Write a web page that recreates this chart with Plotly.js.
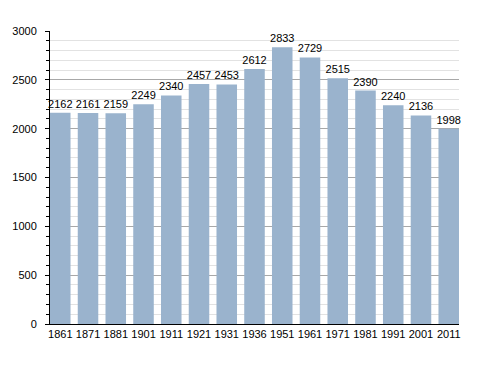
<!DOCTYPE html>
<html><head><meta charset="utf-8">
<script src="https://cdn.plot.ly/plotly-3.0.1.min.js"></script>
<style>html,body{margin:0;padding:0;background:#fff}#chart{width:488px;height:373px}</style>
</head><body><div id="chart"></div>
<script>
const years = ["1861","1871","1881","1901","1911","1921","1931","1936","1951","1961","1971","1981","1991","2001","2011"];
const population = [2162,2161,2159,2249,2340,2457,2453,2612,2833,2729,2515,2390,2240,2136,1998];
const yTicks = [0,500,1000,1500,2000,2500,3000];

const gap = 0.26;
Plotly.newPlot('chart', [{
  type:'bar', x: years, y: population,
  text: population.map(String), textposition:'outside', cliponaxis:false, constraintext:'none',
  textfont:{family:'Liberation Sans, Arial, sans-serif', size:11, color:'#000'},
  marker:{color:'#9ab3cd', line:{width:0}}
}], {
  width:488, height:373,
  margin:{l:50,r:29,t:31,b:49},
  paper_bgcolor:'#fff', plot_bgcolor:'#fff',
  bargap:gap, showlegend:false,
  font:{family:'Liberation Sans, Arial, sans-serif', size:11, color:'#000'},
  xaxis:{type:'category', range:[-0.5+gap/2, years.length-0.5-gap/2], showline:true, linecolor:'#000', linewidth:1, ticks:'', showgrid:false,
    tickfont:{size:11,color:'#000'}, fixedrange:true},
  yaxis:{range:[0,3000], tickvals:yTicks, ticktext:yTicks.map(String), showline:true, linecolor:'#000', linewidth:1,
    ticks:'outside', ticklen:4, tickcolor:'#000', gridcolor:'#a8a8a8', gridwidth:1, zeroline:false, ticklabelstandoff:6,
    minor:{dtick:100, ticks:'outside', ticklen:3, tickcolor:'#000', showgrid:true, gridcolor:'#e2e2e2', gridwidth:1},
    tickfont:{size:11,color:'#000'}, fixedrange:true}
}, {displayModeBar:false, staticPlot:true});
</script></body></html>
